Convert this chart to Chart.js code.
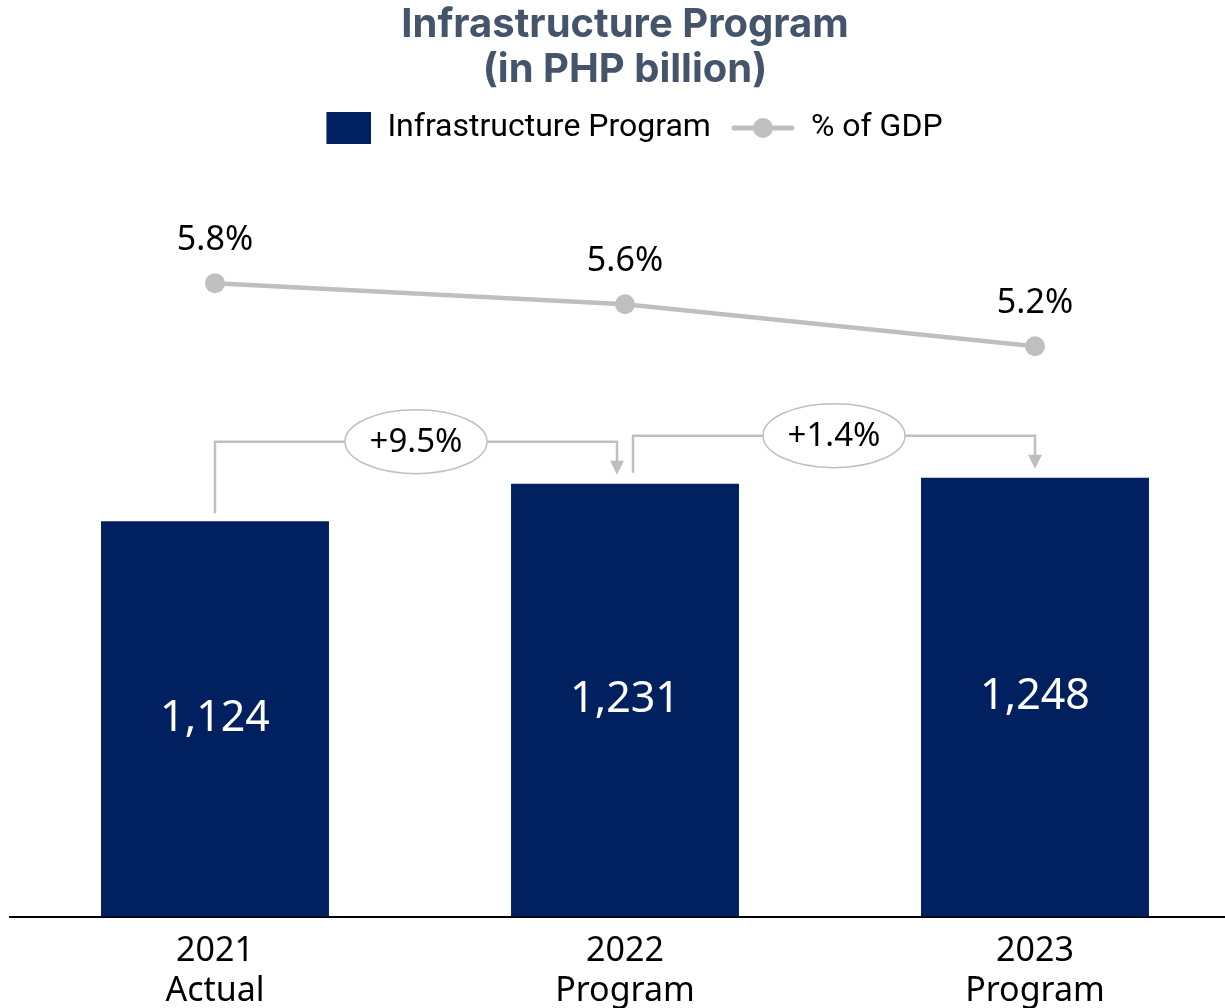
<!DOCTYPE html>
<html lang="en">
<head>
    <meta charset="UTF-8">
    <title>Infrastructure Program</title>
    <script src="https://cdn.jsdelivr.net/npm/chart.js"></script>
    <style>
        body { margin: 0; background: #fff; overflow: hidden; }
        /* the plot runs a little past the window edges, as in the original */
        .chart-container { position: relative; width: 1250px; height: 1017px; }
    </style>
</head>
<body>
    <div class="chart-container">
        <canvas id="infraChart"></canvas>
    </div>
    <script>
        // data
        const years = ['2021', '2022', '2023'];
        const stages = ['Actual', 'Program', 'Program'];
        const spending = [1124, 1231, 1248];   // PHP billion
        const gdpShare = [5.8, 5.6, 5.2];      // % of GDP

        const navy = '#002060';
        const grey = '#BFBFBF';

        // legend swatches: a square for the bars, a line with a dot for the line
        function barSwatch() {
            const c = document.createElement('canvas');
            c.width = 64; c.height = 32;
            const g = c.getContext('2d');
            g.fillStyle = navy;
            g.fillRect(19, 0, 45, 32);
            return c;
        }
        function lineSwatch() {
            const c = document.createElement('canvas');
            c.width = 64; c.height = 22;
            const g = c.getContext('2d');
            g.strokeStyle = grey;
            g.lineWidth = 5;
            g.lineCap = 'round';
            g.beginPath(); g.moveTo(3, 11); g.lineTo(61, 11); g.stroke();
            g.fillStyle = grey;
            g.beginPath(); g.arc(32, 11, 10, 0, Math.PI * 2); g.fill();
            return c;
        }

        // value labels + growth brackets
        const labelPlugin = {
            id: 'labels',
            afterDatasetsDraw(chart) {
                const ctx = chart.ctx;
                const bars = chart.getDatasetMeta(0).data;
                const pts = chart.getDatasetMeta(1).data;
                ctx.save();
                ctx.textAlign = 'center';
                ctx.textBaseline = 'middle';

                ctx.fillStyle = '#fff';
                ctx.font = '43px "Noto Sans"';
                bars.forEach((b, i) => {
                    ctx.fillText(spending[i].toLocaleString('en-US'), b.x, (b.y + b.base) / 2);
                });

                ctx.fillStyle = '#000';
                ctx.font = '34px "Noto Sans"';
                pts.forEach((p, i) => {
                    ctx.fillText(gdpShare[i].toFixed(1) + '%', p.x, p.y - 43);
                });

                // brackets between neighbouring bars
                for (let i = 0; i < bars.length - 1; i++) {
                    const a = bars[i], b = bars[i + 1];
                    const x1 = i === 0 ? a.x : a.x + 8;
                    const y1 = a.y - (i === 0 ? 8 : 11);
                    const x2 = b.x - (i === 0 ? 8 : 0);
                    const tip = b.y - 9;
                    const yTop = Math.min(a.y, b.y) - 42;

                    ctx.strokeStyle = grey;
                    ctx.lineWidth = 2.5;
                    ctx.beginPath();
                    ctx.moveTo(x1, y1);
                    ctx.lineTo(x1, yTop);
                    ctx.lineTo(x2, yTop);
                    ctx.lineTo(x2, tip - 12);
                    ctx.stroke();
                    ctx.fillStyle = grey;
                    ctx.beginPath();
                    ctx.moveTo(x2 - 7, tip - 14);
                    ctx.lineTo(x2 + 7, tip - 14);
                    ctx.lineTo(x2, tip);
                    ctx.closePath();
                    ctx.fill();

                    const cx = (x1 + x2) / 2;
                    ctx.beginPath();
                    ctx.ellipse(cx, yTop, 71, 32, 0, 0, Math.PI * 2);
                    ctx.fillStyle = '#fff';
                    ctx.fill();
                    ctx.lineWidth = 1.5;
                    ctx.stroke();

                    const growth = (spending[i + 1] / spending[i] - 1) * 100;
                    ctx.fillStyle = '#000';
                    ctx.font = '33px "Noto Sans"';
                    ctx.fillText('+' + growth.toFixed(1) + '%', cx, yTop + 1);
                }
                ctx.restore();
            }
        };

        const swatches = [barSwatch(), lineSwatch()];

        new Chart(document.getElementById('infraChart'), {
            data: {
                labels: years,
                datasets: [{
                    type: 'bar',
                    label: 'Infrastructure Program',
                    data: spending,
                    backgroundColor: navy,
                    barPercentage: 0.556,
                    categoryPercentage: 1,
                    yAxisID: 'y'
                }, {
                    type: 'line',
                    label: '% of GDP',
                    data: gdpShare,
                    borderColor: grey,
                    borderWidth: 4.5,
                    pointRadius: 10,
                    pointBackgroundColor: grey,
                    pointBorderWidth: 0,
                    yAxisID: 'y2'
                }]
            },
            options: {
                responsive: true,
                maintainAspectRatio: false,
                animation: false,
                layout: { padding: { left: 10, right: 10, top: 0, bottom: 0 } },
                plugins: {
                    title: {
                        display: true,
                        text: ['Infrastructure Program', '(in PHP billion)'],
                        color: '#44546A',
                        font: { family: 'Inter', size: 40, weight: 'bold', lineHeight: 1.125 },
                        padding: { top: 2, bottom: 0 }
                    },
                    legend: {
                        labels: {
                            usePointStyle: true,
                            pointStyleWidth: 64,
                            padding: 20,
                            color: '#000',
                            font: { family: 'Roboto', size: 32 },
                            generateLabels(chart) {
                                return chart.data.datasets.map((ds, i) => ({
                                    text: ds.label,
                                    pointStyle: swatches[i],
                                    fillStyle: 'transparent',
                                    strokeStyle: 'transparent',
                                    lineWidth: 0,
                                    fontColor: '#000',
                                    datasetIndex: i
                                }));
                            }
                        }
                    },
                    tooltip: { enabled: false }
                },
                scales: {
                    x: {
                        grid: { display: false },
                        border: { display: true, color: '#000', width: 2 },
                        ticks: {
                            padding: 6,
                            color: '#000',
                            font: { family: 'Noto Sans', size: 34, lineHeight: 1.18 },
                            callback: (v, i) => [years[i], stages[i]]
                        }
                    },
                    y: { display: false, min: 0, max: 2168 },
                    y2: { display: false, position: 'right', min: -0.228, max: 7.029 }
                }
            },
            plugins: [labelPlugin]
        });
    </script>
</body>
</html>
